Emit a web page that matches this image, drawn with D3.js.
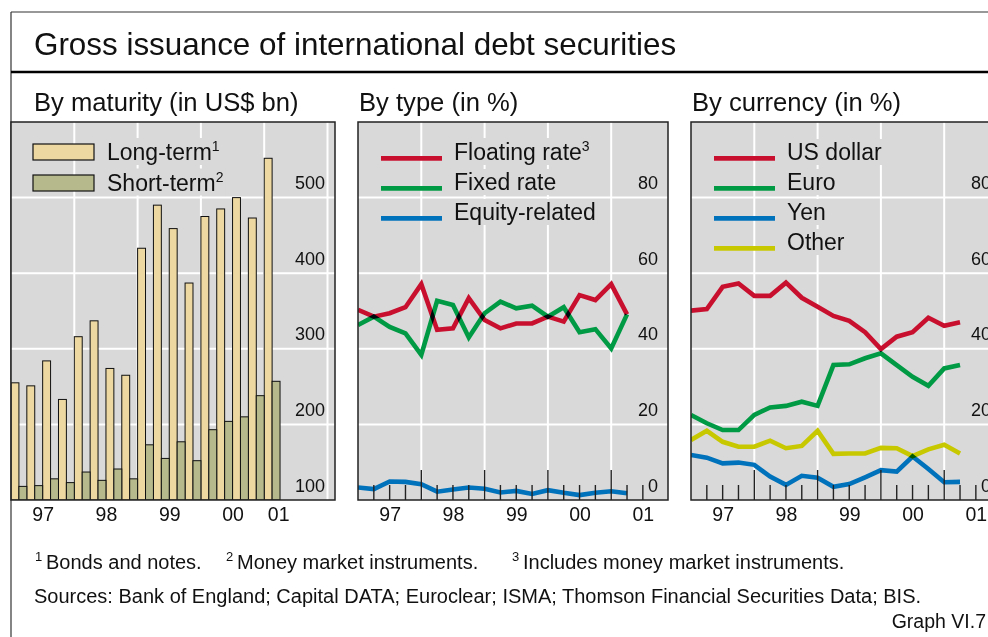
<!DOCTYPE html>
<html><head><meta charset="utf-8">
<script src="https://cdn.jsdelivr.net/npm/d3@7"></script>
<style>
html,body{margin:0;padding:0;background:#fff;}
svg{display:block;font-family:"Liberation Sans",Arial,Helvetica,sans-serif;}
</style></head><body>
<svg id="chart" width="988" height="637"></svg>
<script>
// ---------------- DATA ----------------
const barQuarters = ["1997 Q1","1997 Q2","1997 Q3","1997 Q4","1998 Q1","1998 Q2","1998 Q3","1998 Q4",
  "1999 Q1","1999 Q2","1999 Q3","1999 Q4","2000 Q1","2000 Q2","2000 Q3","2000 Q4","2001 Q1"];
const longTerm  = [255,251,284,233,316,337,274,265,433,490,459,387,475,485,500,473,552];
const shortTerm = [118,119,128,123,137,126,141,128,173,155,177,152,193,204,210,238,257];

const lineQuarters = ["1997 Q1","1997 Q2","1997 Q3","1997 Q4","1998 Q1","1998 Q2","1998 Q3","1998 Q4",
  "1999 Q1","1999 Q2","1999 Q3","1999 Q4","2000 Q1","2000 Q2","2000 Q3","2000 Q4","2001 Q1","2001 Q2"];
const floatingRate  = [50.3,48.5,49.4,51.0,57.1,45.0,45.4,53.4,47.6,45.4,46.7,46.7,48.5,47.2,54.2,52.9,57.1,49.1];
const fixedRate     = [46.3,48.5,45.8,44.1,38.4,52.7,51.6,43.0,49.4,52.5,50.7,51.4,48.5,51.0,44.4,45.2,40.1,49.1];
const equityRelated = [3.3,2.9,4.9,4.8,4.2,2.2,2.8,3.3,3.0,2.0,2.4,1.6,2.6,1.9,1.3,1.9,2.3,1.8];

const usDollar = [50.1,50.5,56.4,57.3,54.0,54.0,57.5,53.5,51.1,48.7,47.4,44.4,39.9,43.2,44.4,48.2,46.1,47.0];
const euro     = [22.5,20.3,18.5,18.5,22.5,24.5,24.9,26.0,24.9,35.7,35.9,37.5,38.8,35.7,32.6,30.2,34.8,35.7];
const yen      = [11.9,11.2,9.7,9.9,9.3,6.2,4.0,6.4,5.9,3.5,4.2,6.0,7.9,7.5,11.5,8.2,4.7,4.8];
const other    = [15.9,18.3,15.4,14.1,14.1,15.7,13.7,14.3,18.3,12.2,12.3,12.3,13.8,13.7,11.6,13.4,14.6,12.3];

const years = [1997,1998,1999,2000,2001];
const yearLabels = ["97","98","99","00","01"];
const maturityTicks = [100,200,300,400,500];
const percentTicks = [0,20,40,60,80];

// ---------------- STYLE / LAYOUT ----------------
const GRAY = "#d9d9d9";
const TOP = 122, BOTTOM = 500, YEAR_W = 63.3;
const RED = "#c8102e", GREEN = "#009a44", BLUE = "#0072bc", YELLOW = "#c8c800";
const LONG_FILL = "#ecd8a0", SHORT_FILL = "#b6b98b";

const qTime = s => +s.slice(0,4) + (+s.slice(6) - 1) / 4;

const svg = d3.select("#chart");

// frame
svg.append("line").attr("x1",11).attr("y1",12).attr("x2",988).attr("y2",12).attr("stroke","#333").attr("stroke-width",1.2);
svg.append("line").attr("x1",11).attr("y1",12).attr("x2",11).attr("y2",637).attr("stroke","#333").attr("stroke-width",1.2);
svg.append("line").attr("x1",11).attr("y1",72).attr("x2",988).attr("y2",72).attr("stroke","#000").attr("stroke-width",2.5);

svg.append("text").attr("x",34).attr("y",55).attr("font-size",31.4).attr("fill","#111")
  .text("Gross issuance of international debt securities");

const panelDefs = [
  {left:11, right:335, sub:"By maturity (in US$ bn)", subX:34, domain:[100,600], ticks:maturityTicks},
  {left:358, right:668, sub:"By type (in %)", subX:359, domain:[0,100], ticks:percentTicks},
  {left:691, right:1001, sub:"By currency (in %)", subX:692, domain:[0,100], ticks:percentTicks}
];

function makePanel(p, idx) {
  const x = d3.scaleLinear().domain([1997, 1997 + (p.right - p.left) / YEAR_W]).range([p.left, p.right]);
  const y = d3.scaleLinear().domain(p.domain).range([BOTTOM, TOP]);
  const g = svg.append("g");
  svg.append("text").attr("x", p.subX).attr("y", 110.5).attr("font-size", 25.6).attr("fill","#111").text(p.sub);
  const clipId = "clip" + idx;
  g.append("clipPath").attr("id", clipId).append("rect")
    .attr("x", p.left).attr("y", TOP).attr("width", p.right - p.left).attr("height", BOTTOM - TOP);
  g.append("rect").attr("x", p.left).attr("y", TOP).attr("width", p.right - p.left).attr("height", BOTTOM - TOP)
    .attr("fill", GRAY);
  // grid
  const grid = g.append("g").attr("clip-path", `url(#${clipId})`);
  grid.selectAll("line.h").data(p.ticks.filter(t => t > p.domain[0])).join("line")
    .attr("x1", p.left).attr("x2", p.right).attr("y1", d => y(d)).attr("y2", d => y(d))
    .attr("stroke", "#fff").attr("stroke-width", 2);
  const vYears = d3.range(1998, Math.floor(x.domain()[1]) + 1);
  grid.selectAll("line.v").data(vYears).join("line")
    .attr("x1", d => x(d)).attr("x2", d => x(d)).attr("y1", TOP).attr("y2", BOTTOM)
    .attr("stroke", "#fff").attr("stroke-width", 2);
  const data = g.append("g").attr("clip-path", `url(#${clipId})`);
  return {p, x, y, g, data, clipId};
}

function finishPanel(P, labelEnd) {
  const {p, x, y, g} = P;
  g.append("rect").attr("x", p.left).attr("y", TOP).attr("width", p.right - p.left).attr("height", BOTTOM - TOP)
    .attr("fill", "none").attr("stroke", "#222").attr("stroke-width", 1.5);
  // y labels (inside, right, above gridline)
  const ya = d3.axisLeft(y).tickValues(p.ticks).tickSize(0).tickPadding(0);
  const yg = g.append("g").attr("transform", `translate(${p.right - 10},0)`).call(ya);
  yg.select(".domain").remove();
  yg.selectAll("text").attr("dy", null).attr("y", -9).attr("font-size", 18)
    .attr("font-family", '"Liberation Sans",Arial,sans-serif').attr("fill", "#111");
  // x labels
  const pos = years.map(yr => Math.min(yr + 0.5, labelEnd));
  const xa = d3.axisBottom(x).tickValues(pos).tickFormat((d, i) => yearLabels[i]).tickSize(0).tickPadding(0);
  const xg = g.append("g").attr("transform", `translate(0,${BOTTOM})`).call(xa);
  xg.select(".domain").remove();
  xg.selectAll("text").attr("dy", null).attr("y", 21).attr("font-size", 19.5)
    .attr("font-family", '"Liberation Sans",Arial,sans-serif').attr("fill", "#111");
}

function legendText(g, x, yb, label, sup) {
  const bg = g.append("rect").attr("fill", GRAY);
  const t = g.append("text").attr("x", x).attr("y", yb).attr("font-size", 23).attr("fill", "#111").text(label);
  if (sup) t.append("tspan").attr("font-size", 14).attr("dy", -9).text(sup);
  const b = t.node().getBBox();
  bg.attr("x", b.x - 2).attr("y", b.y).attr("width", b.width + 4).attr("height", b.height);
}

// ---------- Panel 1: bars ----------
const P1 = makePanel(panelDefs[0], 0);
const bw = YEAR_W / 8;
P1.data.selectAll("rect.long").data(barQuarters).join("rect")
  .attr("x", (q) => P1.x(qTime(q))).attr("width", bw)
  .attr("y", (q, i) => P1.y(longTerm[i])).attr("height", (q, i) => BOTTOM - P1.y(longTerm[i]))
  .attr("fill", LONG_FILL).attr("stroke", "#111").attr("stroke-width", 1);
P1.data.selectAll("rect.short").data(barQuarters).join("rect")
  .attr("x", (q) => P1.x(qTime(q)) + bw).attr("width", bw)
  .attr("y", (q, i) => P1.y(shortTerm[i])).attr("height", (q, i) => BOTTOM - P1.y(shortTerm[i]))
  .attr("fill", SHORT_FILL).attr("stroke", "#111").attr("stroke-width", 1);
finishPanel(P1, qTime(barQuarters[barQuarters.length - 1]) + 0.22);
{
  const lg = P1.g.append("g");
  lg.append("rect").attr("x", 33).attr("y", 144).attr("width", 61).attr("height", 16)
    .attr("fill", LONG_FILL).attr("stroke", "#111").attr("stroke-width", 1.2);
  lg.append("rect").attr("x", 33).attr("y", 175).attr("width", 61).attr("height", 16)
    .attr("fill", SHORT_FILL).attr("stroke", "#111").attr("stroke-width", 1.2);
  legendText(lg, 107, 160, "Long-term", "1");
  legendText(lg, 107, 190.5, "Short-term", "2");
}

// ---------- line panels ----------
function drawTicks(P) {
  const idx = d3.range(1, 19);
  P.g.append("g").attr("clip-path", `url(#${P.clipId})`).selectAll("line").data(idx).join("line")
    .attr("x1", i => P.x(1997 + i / 4)).attr("x2", i => P.x(1997 + i / 4))
    .attr("y1", BOTTOM).attr("y2", i => BOTTOM - (i % 4 === 0 ? 30 : 15))
    .attr("stroke", "#222").attr("stroke-width", 1.4);
}
function drawLines(P, series) {
  const lg = P.data.append("g").style("isolation", "isolate");
  series.forEach(s => {
    const line = d3.line().x((v, i) => P.x(qTime(lineQuarters[i]))).y(v => P.y(v));
    lg.append("path").attr("d", line(s.values)).attr("fill", "none").attr("stroke", s.color)
      .attr("stroke-width", 4.6).attr("stroke-linejoin", "miter").attr("stroke-miterlimit", 4)
      .style("mix-blend-mode", "multiply");
  });
}
function drawLegend(P, series, x0) {
  const lg = P.g.append("g");
  series.forEach((s, i) => {
    const yb = 160 + i * 30;
    lg.append("line").attr("x1", x0).attr("x2", x0 + 61).attr("y1", yb - 1.7).attr("y2", yb - 1.7)
      .attr("stroke", s.color).attr("stroke-width", 4.8);
    legendText(lg, x0 + 73, yb, s.name, s.sup);
  });
}

const P2 = makePanel(panelDefs[1], 1);
const typeSeries = [
  {name:"Floating rate", sup:"3", values:floatingRate, color:RED},
  {name:"Fixed rate", values:fixedRate, color:GREEN},
  {name:"Equity-related", values:equityRelated, color:BLUE}
];
drawTicks(P2);
drawLines(P2, typeSeries);
finishPanel(P2, 9999);
drawLegend(P2, typeSeries, 381);

const P3 = makePanel(panelDefs[2], 2);
const curSeries = [
  {name:"US dollar", values:usDollar, color:RED},
  {name:"Euro", values:euro, color:GREEN},
  {name:"Yen", values:yen, color:BLUE},
  {name:"Other", values:other, color:YELLOW}
];
drawTicks(P3);
drawLines(P3, curSeries);
finishPanel(P3, 9999);
drawLegend(P3, curSeries, 714);

// ---------------- footer ----------------
const foot = svg.append("g").attr("fill", "#111");
function fn(x, num, txt) {
  foot.append("text").attr("x", x).attr("y", 561).attr("font-size", 13).text(num);
  foot.append("text").attr("x", x + 11).attr("y", 569).attr("font-size", 20).text(txt);
}
fn(35, "1", "Bonds and notes.");
fn(226, "2", "Money market instruments.");
fn(512, "3", "Includes money market instruments.");
foot.append("text").attr("x", 34).attr("y", 603).attr("font-size", 20)
  .text("Sources: Bank of England; Capital DATA; Euroclear; ISMA; Thomson Financial Securities Data; BIS.");
foot.append("text").attr("x", 986).attr("y", 628).attr("font-size", 19.5).attr("text-anchor", "end")
  .text("Graph VI.7");
</script>
</body></html>
